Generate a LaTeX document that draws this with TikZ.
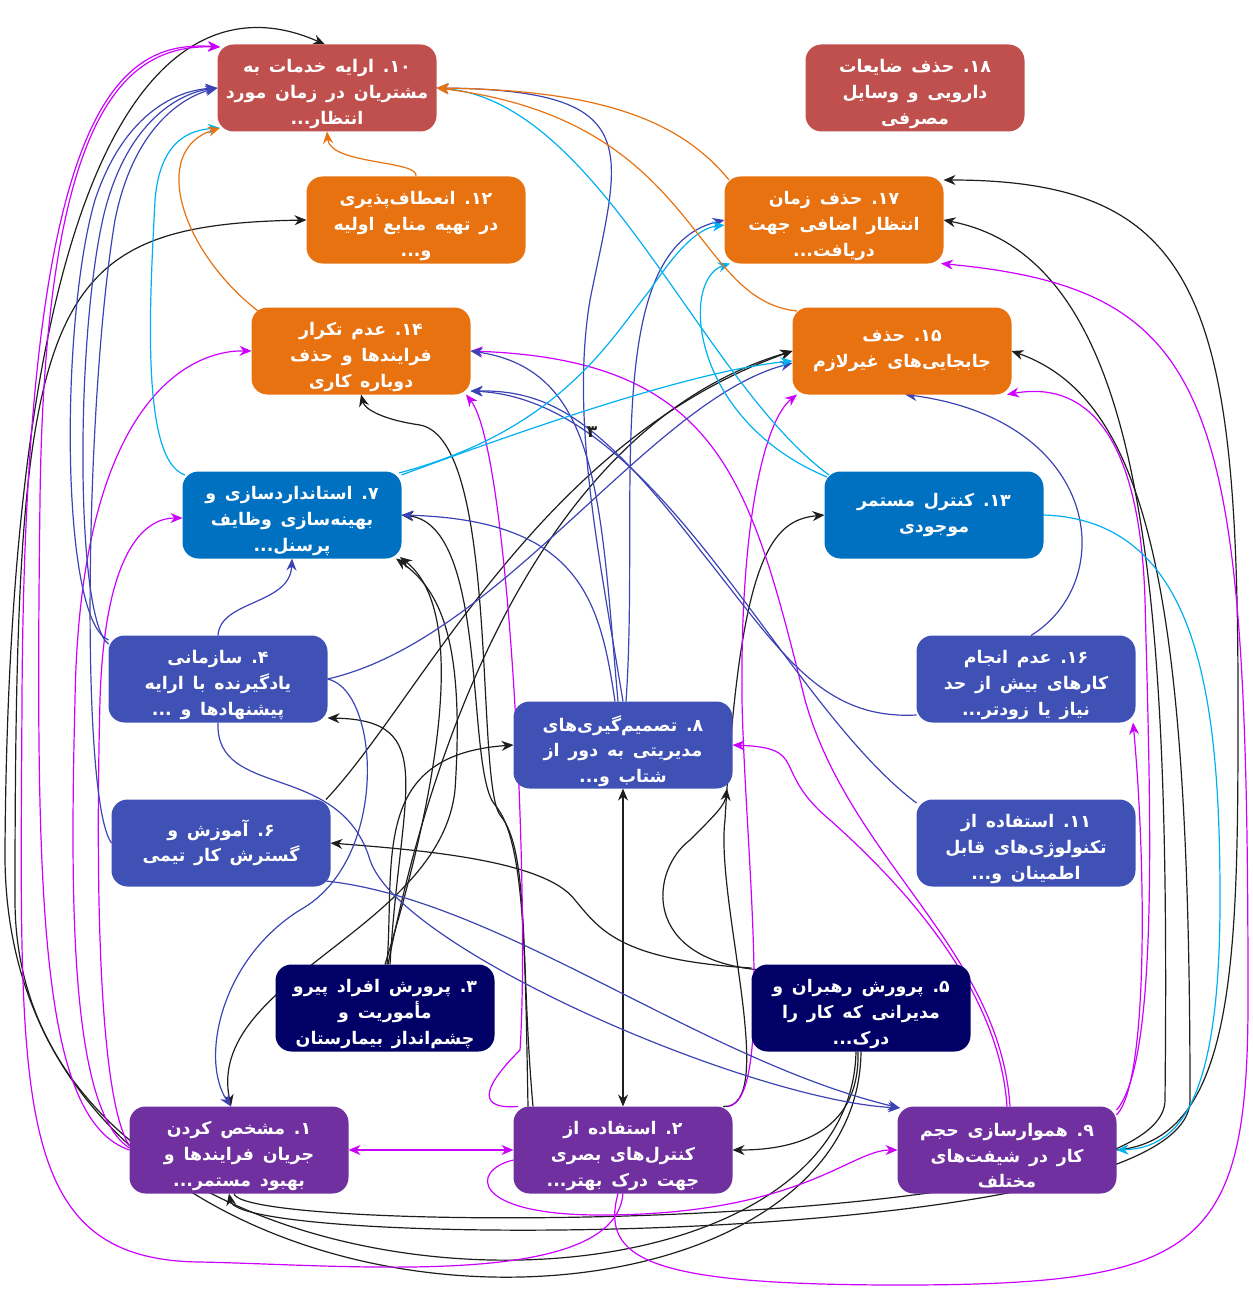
\documentclass[tikz,border=0pt]{standalone}
\usepackage{fontspec}
\newfontfamily\fa[Script=Arabic,WordSpace=1.45]{DejaVu Sans Bold}
\TeXXeTstate=1
\usetikzlibrary{arrows.meta,calc}
\pgfdeclarelayer{bg}
\pgfsetlayers{bg,main}
\newcommand\rl[1]{\beginR #1\endR}
\newcommand\fl[1]{\raisebox{0pt}[\dimexpr\height+6pt\relax]{\beginR #1\endR}}
\newcommand\nm[1]{\hbox{#1}\hbox{.}}
\newcommand\dd{\hbox{...}}
\definecolor{cRed}{RGB}{192,80,77}
\definecolor{cOr}{RGB}{232,113,16}
\definecolor{cBl}{RGB}{0,112,192}
\definecolor{cInd}{RGB}{63,81,181}
\definecolor{cNav}{RGB}{0,0,102}
\definecolor{cPur}{RGB}{112,48,160}
\definecolor{lk}{RGB}{30,30,30}
\definecolor{lm}{RGB}{204,0,255}
\definecolor{li}{RGB}{60,68,180}
\definecolor{lc}{RGB}{0,176,240}
\tikzset{
  box/.style={rounded corners=8pt, minimum width=109.5pt, minimum height=43.5pt, inner sep=0pt,
    text=white, align=center, font=\fa\fontsize{8.7}{12.8}\selectfont},
  ar/.style={-{Stealth[length=6pt,width=5pt]}},
  ar2/.style={{Stealth[length=6pt,width=5pt]}-{Stealth[length=6pt,width=5pt]}},
  ek/.style={draw=lk, line width=0.6pt},
  em/.style={draw=lm, line width=0.6pt},
  ei/.style={draw=li, line width=0.6pt},
  ec/.style={draw=lc, line width=0.6pt},
  eo/.style={draw=cOr, line width=0.6pt},
}
\begin{document}
\begin{tikzpicture}[x=0.5pt,y=-0.5pt]
\useasboundingbox (0,0) rectangle (1252,1289);
\node[box,fill=cRed] (n10) at (327,88) {\fl{\nm{۱۰} ارایه خدمات به}\\\rl{مشتریان در زمان مورد}\\\rl{انتظار\dd}};
\node[box,fill=cRed] (n18) at (915,88) {\fl{\nm{۱۸} حذف ضایعات}\\\rl{دارویی و وسایل}\\\rl{مصرفی}};
\node[box,fill=cOr] (n12) at (416,220) {\fl{\nm{۱۲} انعطاف‌پذیری}\\\rl{در تهیه منابع اولیه}\\\rl{و\dd}};
\node[box,fill=cOr] (n17) at (834,220) {\fl{\nm{۱۷} حذف زمان}\\\rl{انتظار اضافی جهت}\\\rl{دریافت\dd}};
\node[box,fill=cOr] (n14) at (361,351) {\fl{\nm{۱۴} عدم تکرار}\\\rl{فرایندها و حذف}\\\rl{دوباره کاری}};
\node[box,fill=cOr] (n15) at (902,351) {\rl{\nm{۱۵} حذف}\\\rl{جابجایی‌های غیرلازم}};
\node[box,fill=cBl] (n7) at (292,515) {\fl{\nm{۷} استانداردسازی و}\\\rl{بهینه‌سازی وظایف}\\\rl{پرسنل\dd}};
\node[box,fill=cBl] (n13) at (934,515) {\rl{\nm{۱۳} کنترل مستمر}\\\rl{موجودی}};
\node[box,fill=cInd] (n4) at (218,679) {\fl{\nm{۴} سازمانی}\\\rl{یادگیرنده با ارایه}\\\rl{پیشنهادها و \dd}};
\node[box,fill=cInd] (n8) at (623,745) {\fl{\nm{۸} تصمیم‌گیری‌های}\\\rl{مدیریتی به دور از}\\\rl{شتاب و\dd}};
\node[box,fill=cInd] (n16) at (1026,679) {\fl{\nm{۱۶} عدم انجام}\\\rl{کارهای بیش از حد}\\\rl{نیاز یا زودتر\dd}};
\node[box,fill=cInd] (n6) at (221,843) {\rl{\nm{۶} آموزش و}\\\rl{گسترش کار تیمی}};
\node[box,fill=cInd] (n11) at (1026,843) {\fl{\nm{۱۱} استفاده از}\\\rl{تکنولوژی‌های قابل}\\\rl{اطمینان و\dd}};
\node[box,fill=cNav] (n3) at (385,1008) {\fl{\nm{۳} پرورش افراد پیرو}\\\rl{مأموریت و}\\\rl{چشم‌انداز بیمارستان}};
\node[box,fill=cNav] (n5) at (861,1008) {\fl{\nm{۵} پرورش رهبران و}\\\rl{مدیرانی که کار را}\\\rl{درک\dd}};
\node[box,fill=cPur] (n1) at (239,1150) {\fl{\nm{۱} مشخص کردن}\\\rl{جریان فرایندها و}\\\rl{بهبود مستمر\dd}};
\node[box,fill=cPur] (n2) at (623,1150) {\fl{\nm{۲} استفاده از}\\\rl{کنترل‌های بصری}\\\rl{جهت درک بهتر\dd}};
\node[box,fill=cPur] (n9) at (1007,1150) {\fl{\nm{۹} هموارسازی حجم}\\\rl{کار در شیفت‌های}\\\rl{مختلف}};
\node[font=\fa\fontsize{8.5}{10}\selectfont, text=lk] (lab3) at (592,432) {۳};
\begin{pgfonlayer}{bg}
% black
\draw[ek,ar] ($(n5)+(0,43.5)$) .. controls (858,1380) and (0,1380) .. (5,850) .. controls (10,100) and (180,-20) .. ($(n10)+(-2,-43.5)$);
\draw[ek,ar] ($(n5)+(-5,43.5)$) .. controls (850,1360) and (15,1340) .. (15,900) .. controls (15,300) and (40,225) .. ($(n12)+(-109.5,0)$);
\draw[ek,ar] ($(n5)+(-3,43.5)$) .. controls (860,1130) and (800,1150) .. ($(n2)+(109.5,0)$);
\draw[ek,ar2] ($(n2)+(0,-43.5)$) -- ($(n8)+(0,43.5)$);
\draw[ek,ar] ($(n5)+(-100,-38)$) .. controls (640,960) and (650,870) .. (690,840) .. controls (715,815) and (725,805) .. ($(n8)+(104,43.5)$);
\draw[ek,ar] ($(n2)+(100,-43.5)$) .. controls (780,1110) and (715,900) .. (725,820) .. controls (740,560) and (770,520) .. ($(n13)+(-109.5,0)$);
\draw[ek,ar] ($(n5)+(-109.5,-40)$) .. controls (620,960) and (600,930) .. (575,900) .. controls (545,860) and (420,850) .. ($(n6)+(109.5,0)$);
\draw[ek,ar] ($(n3)+(0,-43.5)$) .. controls (420,850) and (480,620) .. ($(n7)+(108,42)$);
\draw[ek,ar2] ($(n1)+(-8,-43.5)$) .. controls (205,980) and (440,930) .. (455,790) .. controls (465,640) and (440,590) .. ($(n7)+(104,43.5)$);
\draw[ek,ar] ($(n3)+(3,-43.5)$) .. controls (440,700) and (560,420) .. ($(n15)+(-109.5,0)$);
\draw[ek,ar] ($(n6)+(105,-43.5)$) .. controls (420,700) and (540,440) .. ($(n15)+(-109.5,0)$);
\draw[ek,ar] ($(n3)+(5,-43.5)$) .. controls (400,790) and (440,720) .. ($(n4)+(109.5,39)$);
\draw[ek,ar] ($(n3)+(2,-43.5)$) .. controls (395,860) and (370,755) .. ($(n8)+(-109.5,0)$);
\draw[ek,ar] ($(n2)+(-90,-43.5)$) .. controls (520,960) and (530,850) .. (500,815) .. controls (475,780) and (500,440) .. (420,425) .. controls (385,420) and (365,410) .. ($(n14)+(0,43.5)$);
\draw[ek,ar] ($(n2)+(-95,-43.5)$) .. controls (525,950) and (525,840) .. (495,805) .. controls (465,770) and (490,525) .. ($(n7)+(109.5,0)$);
\draw[ek,ar] ($(n1)+(-5,43.5)$) .. controls (240,1235) and (1165,1235) .. (1165,1100) .. controls (1170,600) and (1150,260) .. ($(n17)+(109.5,0)$);
\draw[ek,ar2] ($(n15)+(109.5,0)$) .. controls (1150,400) and (1190,600) .. (1190,1100) .. controls (1190,1250) and (240,1250) .. ($(n1)+(-10,43.5)$);
\draw[ek,ar] ($(n9)+(109.5,0)$) .. controls (1238,1140) and (1238,950) .. (1238,700) .. controls (1238,300) and (1200,180) .. ($(n17)+(109.5,-40)$);
% magenta
\draw[em,ar] ($(n1)+(-109.5,0)$) .. controls (40,1120) and (35,900) .. (40,500) .. controls (45,100) and (130,45) .. ($(n10)+(-107,-41)$);
\draw[em,ar] ($(n2)+(0,43.5)$) .. controls (615,1290) and (350,1265) .. (200,1262) .. controls (10,1260) and (20,1100) .. (22,700) .. controls (25,100) and (120,40) .. ($(n10)+(-107,-41)$);
\draw[em,ar] ($(n1)+(-109.5,-2)$) .. controls (70,1110) and (70,900) .. (75,700) .. controls (80,400) and (190,350) .. ($(n14)+(-109.5,0)$);
\draw[em,ar] ($(n1)+(-109.5,-4)$) .. controls (100,1100) and (95,900) .. (100,700) .. controls (105,540) and (150,518) .. ($(n7)+(-109.5,3)$);
\draw[em,ar2] ($(n1)+(109.5,0)$) -- ($(n2)+(-109.5,0)$);
\draw[em,ar] ($(n2)+(-109.5,10)$) .. controls (470,1170) and (470,1215) .. (600,1215) .. controls (800,1215) and (850,1150) .. ($(n9)+(-109.5,0)$);
\draw[em,ar] ($(n2)+(-105,-43.5)$) .. controls (470,1110) and (490,1080) .. (520,1050) .. controls (530,900) and (510,450) .. ($(n14)+(105,43.5)$);
\draw[em,ar] ($(n2)+(105,-43.5)$) .. controls (775,1100) and (745,850) .. (742,700) .. controls (740,520) and (765,420) .. ($(n15)+(-105,43.5)$);
\draw[em,ar] ($(n9)+(0,-43.5)$) .. controls (1000,1000) and (920,900) .. (830,820) .. controls (770,770) and (810,748) .. ($(n8)+(109.5,0)$);
\draw[em,ar] ($(n9)+(3,-43.5)$) .. controls (1000,950) and (850,860) .. (805,700) .. controls (750,480) and (720,360) .. ($(n14)+(109.5,0)$);
\draw[em,ar] ($(n9)+(109.5,-40)$) .. controls (1160,1060) and (1150,800) .. (1145,600) .. controls (1140,440) and (1090,380) .. ($(n15)+(105,43.5)$);
\draw[em,ar] ($(n9)+(109.5,-35)$) .. controls (1150,1080) and (1145,850) .. ($(n16)+(107,43.5)$);
\draw[em,ar] ($(n2)+(-5,43.5)$) .. controls (600,1260) and (650,1285) .. (900,1285) .. controls (1200,1285) and (1248,1250) .. (1248,1000) .. controls (1248,400) and (1220,290) .. ($(n17)+(107,43.5)$);
% indigo
\draw[ei,ar] ($(n4)+(-109.5,-39)$) .. controls (60,620) and (60,320) .. (95,200) .. controls (125,110) and (180,90) .. ($(n10)+(-109.5,0)$);
\draw[ei,ar] ($(n4)+(-109.5,-35)$) .. controls (75,620) and (75,330) .. (105,210) .. controls (130,115) and (185,92) .. ($(n10)+(-109.5,0)$);
\draw[ei,ar] ($(n6)+(-109.5,0)$) .. controls (80,800) and (85,400) .. (115,220) .. controls (135,120) and (190,95) .. ($(n10)+(-109.5,0)$);
\draw[ei,ar] ($(n4)+(0,-43.5)$) .. controls (220,600) and (290,605) .. ($(n7)+(0,43.5)$);
\draw[ei,ar] ($(n4)+(109.5,0)$) .. controls (500,640) and (650,400) .. ($(n15)+(-109.5,12)$);
\draw[ei,ar] ($(n4)+(109.5,0)$) .. controls (380,690) and (390,860) .. (300,910) .. controls (220,960) and (200,1060) .. ($(n1)+(-8,-43.5)$);
\draw[ei,ar] ($(n4)+(0,43.5)$) .. controls (215,800) and (340,760) .. (370,860) .. controls (400,950) and (750,1100) .. ($(n9)+(-107,-42)$);
\draw[ei,ar] ($(n6)+(105,38)$) .. controls (500,900) and (700,1060) .. ($(n9)+(-107,-42)$);
\draw[ei,ar] ($(n8)+(0,-43.5)$) .. controls (600,560) and (570,420) .. (590,300) .. controls (620,150) and (650,90) .. ($(n10)+(109.5,0)$);
\draw[ei,ar] ($(n8)+(-5,-43.5)$) .. controls (600,500) and (600,370) .. ($(n14)+(109.5,0)$);
\draw[ei,ar] ($(n8)+(3,-43.5)$) .. controls (640,500) and (600,250) .. ($(n17)+(-109.5,0)$);
\draw[ei,ar] ($(n8)+(-8,-43.5)$) .. controls (600,600) and (580,520) .. ($(n7)+(109.5,0)$);
\draw[ei,ar] ($(n16)+(-109.5,36)$) .. controls (820,720) and (780,650) .. (700,550) .. controls (600,420) and (550,390) .. ($(n14)+(109.5,40)$);
\draw[ei,ar] ($(n16)+(5,-43.5)$) .. controls (1120,580) and (1100,420) .. ($(n15)+(3,43.5)$);
\draw[ei,ar] ($(n11)+(-109.5,-40)$) .. controls (780,700) and (660,400) .. ($(n14)+(109.5,40)$);
% cyan
\draw[ec,ar] ($(n7)+(-107,-40)$) .. controls (140,460) and (150,300) .. (155,200) .. controls (160,140) and (190,130) .. ($(n10)+(-107,40)$);
\draw[ec,ar] ($(n7)+(107,-42)$) .. controls (560,430) and (610,340) .. (650,290) .. controls (680,245) and (700,228) .. ($(n17)+(-109.5,5)$);
\draw[ec,ar] ($(n7)+(109.5,-40)$) .. controls (550,420) and (700,370) .. ($(n15)+(-109.5,10)$);
\draw[ec,ar] ($(n13)+(-105,-40)$) .. controls (700,380) and (600,100) .. ($(n10)+(109.5,0)$);
\draw[ec,ar] ($(n13)+(-107,-38)$) .. controls (690,420) and (680,280) .. ($(n17)+(-104,43.5)$);
\draw[ec,ar] ($(n13)+(109.5,0)$) .. controls (1200,520) and (1220,700) .. (1220,900) .. controls (1220,1100) and (1180,1148) .. ($(n9)+(109.5,0)$);
% orange
\draw[eo,ar] ($(n12)+(0,-43.5)$) .. controls (420,160) and (330,165) .. ($(n10)+(0,43.5)$);
\draw[eo,ar] ($(n14)+(-103,-40)$) .. controls (180,250) and (150,150) .. ($(n10)+(-107,40)$);
\draw[eo,ar] ($(n17)+(-105,-40)$) .. controls (680,120) and (600,90) .. ($(n10)+(109.5,0)$);
\draw[eo,ar] ($(n15)+(-105,-40)$) .. controls (690,300) and (700,120) .. ($(n10)+(109.5,0)$);
\end{pgfonlayer}
\end{tikzpicture}
\end{document}
